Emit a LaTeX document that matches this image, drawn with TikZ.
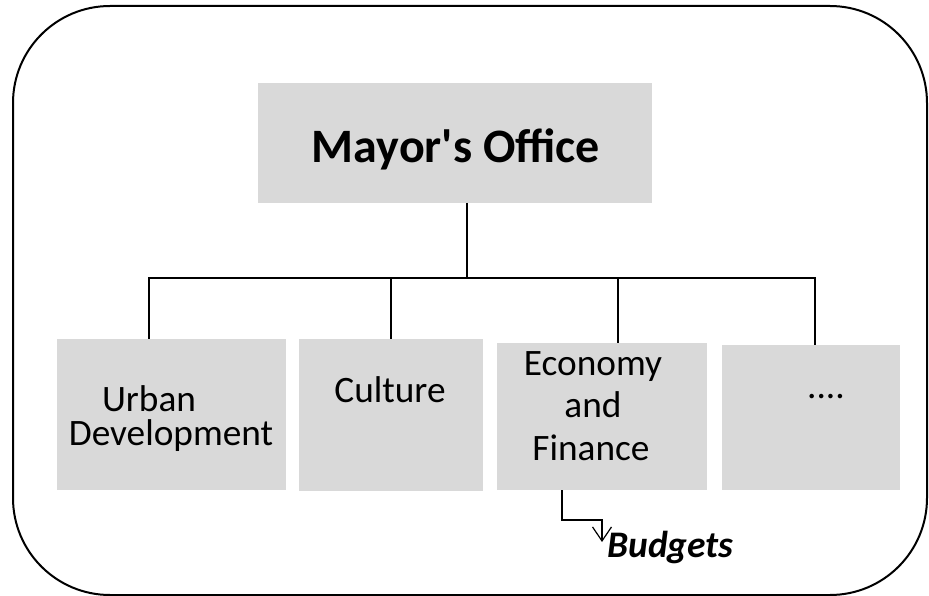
\documentclass[tikz,border=0pt]{standalone}
\usepackage{fontspec}
\setmainfont{Carlito}[Ligatures=TeXOff]
\usetikzlibrary{arrows.meta}
\definecolor{boxgray}{HTML}{D9D9D9}
\begin{document}
\begin{tikzpicture}[x=1pt,y=-1pt,
  orgbox/.style={fill=boxgray,draw=none},
  childtxt/.style={font=\fontsize{37.3}{37.3}\selectfont,inner sep=0pt,anchor=base},
  conn/.style={draw=black,line width=1.4pt},
]
\useasboundingbox (0,0) rectangle (929,596);
\draw[line width=2pt,rounded corners=97pt] (13,6) rectangle (927,595);
% boxes
\path[orgbox] (258,83) rectangle (652,203);
\path[orgbox] (57,339) rectangle (286,490);
\path[orgbox] (299,339) rectangle (483,491);
\path[orgbox] (497,343) rectangle (707,490);
\path[orgbox] (722,345) rectangle (900,490);
\node[inner sep=0pt,minimum width=394pt,minimum height=120pt] (mayor) at (455,143) {};
\node[inner sep=0pt,minimum width=229pt,minimum height=151pt] (urban) at (171.5,414.5) {};
\node[inner sep=0pt,minimum width=184pt,minimum height=152pt] (culture) at (391,415) {};
\node[inner sep=0pt,minimum width=210pt,minimum height=147pt] (econ) at (602,416.5) {};
\node[inner sep=0pt,minimum width=178pt,minimum height=145pt] (dots) at (811,417.5) {};
% texts
\node[inner sep=0pt,anchor=base,font=\fontsize{48}{48}\selectfont\bfseries] (tmayor) at (456,163) {Mayor's Office};
\node[childtxt] (turban1) at (149,411) {Urban};
\node[childtxt] (turban2) at (171,445) {Development};
\node[childtxt] (tculture) at (390,402) {Culture};
\node[childtxt] (tecon1) at (593,375) {Economy};
\node[childtxt] (tecon2) at (593,417) {and};
\node[childtxt] (tecon3) at (591,460) {Finance};
\node[childtxt] (tdots) at (826,398) {....};
\node[inner sep=0pt,anchor=base west,font=\fontsize{37.5}{37.5}\selectfont\bfseries\itshape] (budgets) at (607,557) {Budgets};
% connectors
\coordinate (mtop) at (467,203);
\coordinate (bus) at (467,278);
\coordinate (bl) at (149,278);
\coordinate (br) at (815,278);
\coordinate (ec) at (618,278);
\draw[conn] (mtop) -- (bus);
\draw[conn] (urban.north -| bl) -- (bl) -- (br) -- (dots.north -| br);
\draw[conn] (culture.north) -- (culture.north |- bl);
\draw[conn] (econ.north -| ec) -- (ec);
\coordinate (bstart) at (562,490);
\coordinate (bbend) at (602,520);
\coordinate (btip) at (602,542);
\draw[conn,line width=1.2pt,-{Straight Barb[length=14pt,width=19pt,line width=1.2pt]}] (bstart) |- (bbend) -- (btip);
\end{tikzpicture}
\end{document}
